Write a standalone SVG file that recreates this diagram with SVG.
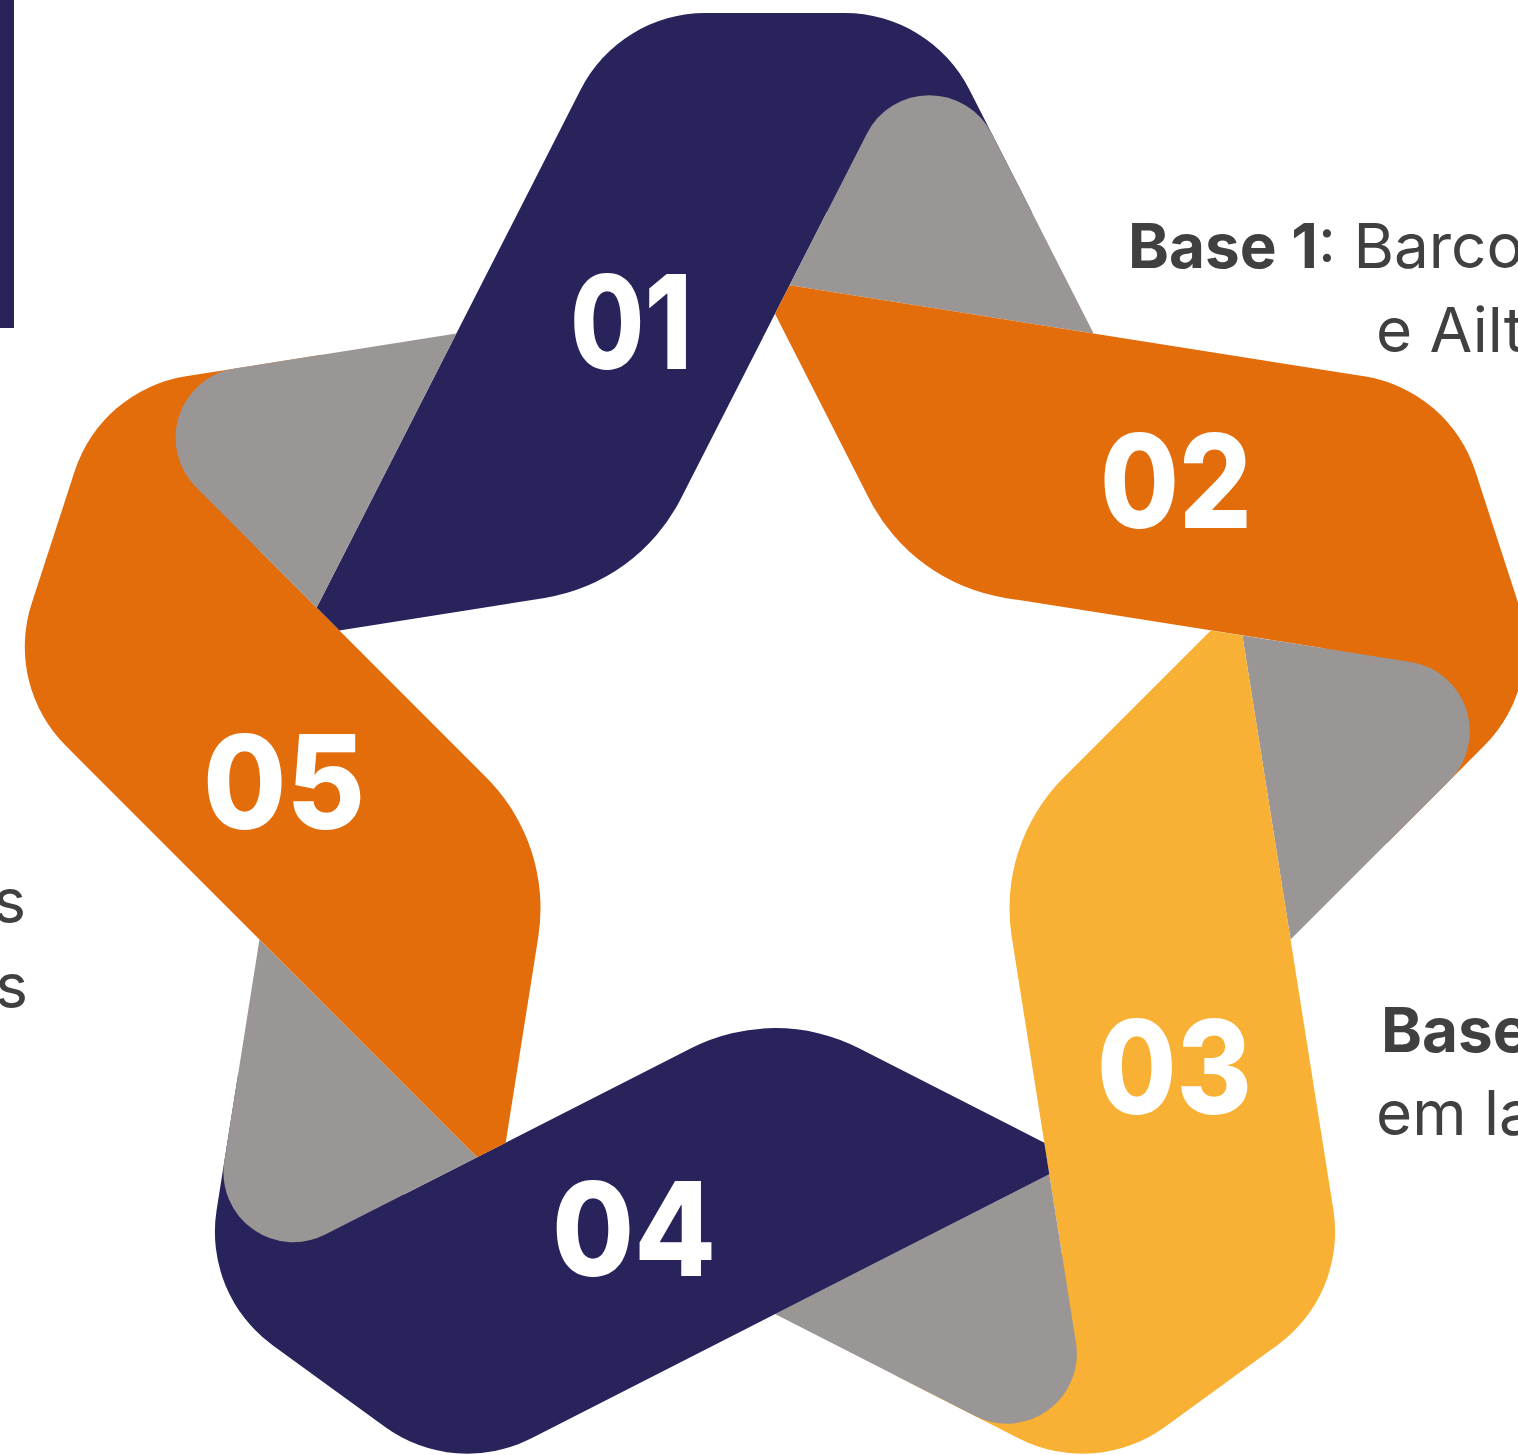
<svg xmlns="http://www.w3.org/2000/svg" xmlns:xlink="http://www.w3.org/1999/xlink" width="1518" height="1455" viewBox="0 0 1518 1455">
<style>
.navy{fill:#29235C}
.orange{fill:#E36C0B}
.yellow{fill:#F8B134}
.gray{fill:#9A9695}
.num{font-family:Inter,"Liberation Sans",sans-serif;font-weight:800;font-size:130px;fill:#FFFFFF}
.lbl{font-family:Inter,"Liberation Sans",sans-serif;font-size:62px;fill:#404040}
.b{font-weight:700}
</style>
<defs>
<path id="ribbon" d="M -458.40 -164.24 L -435.77 -141.59 L -230.32 -174.11 A 185 185 0 0 0 -94.43 -272.85 L 51.89 -560 L 256.75 -560 L 194.30 -682.55 A 140 140 0 0 0 69.55 -759 L -69.55 -759 A 140 140 0 0 0 -194.30 -682.55 Z"/>
<path id="fold" d="M 14.58 -486.71 L 91.95 -638.62 A 70 70 0 0 1 216.69 -638.62 L 318.63 -438.56 Z"/>
</defs>
<rect x="0" y="0" width="14" height="328" class="navy"/>
<g id="node-01">
<g transform="translate(775 772)"><use xlink:href="#ribbon" class="navy"/><use xlink:href="#fold" class="gray"/></g>
<text class="num" x="570" y="369" textLength="122" lengthAdjust="spacingAndGlyphs">01</text>
</g>
<g id="node-02">
<g transform="translate(775 772) rotate(72)"><use xlink:href="#ribbon" class="orange"/><use xlink:href="#fold" class="gray"/></g>
<text class="num" x="1100" y="528" textLength="152" lengthAdjust="spacingAndGlyphs">02</text>
</g>
<g id="node-03">
<g transform="translate(775 772) rotate(144)"><use xlink:href="#ribbon" class="yellow"/><use xlink:href="#fold" class="gray"/></g>
<text class="num" x="1097" y="1114" textLength="155" lengthAdjust="spacingAndGlyphs">03</text>
</g>
<g id="node-04">
<g transform="translate(775 772) rotate(216)"><use xlink:href="#ribbon" class="navy"/><use xlink:href="#fold" class="gray"/></g>
<text class="num" x="552" y="1276" textLength="164" lengthAdjust="spacingAndGlyphs">04</text>
</g>
<g id="node-05">
<g transform="translate(775 772) rotate(288)"><use xlink:href="#ribbon" class="orange"/><use xlink:href="#fold" class="gray"/></g>
<text class="num" x="203" y="829" textLength="162" lengthAdjust="spacingAndGlyphs">05</text>
</g>
<g id="texts">
<text class="lbl" x="1128" y="268"><tspan class="b">Base 1</tspan>: Barco</text>
<text class="lbl" x="1376" y="352">e Ailt</text>
<text class="lbl b" x="1381" y="1052">Base</text>
<text class="lbl" x="1376" y="1135">em la</text>
<text class="lbl" x="26" y="923" text-anchor="end">s</text>
<text class="lbl" x="28" y="1008" text-anchor="end">s</text>
</g>
</svg>
